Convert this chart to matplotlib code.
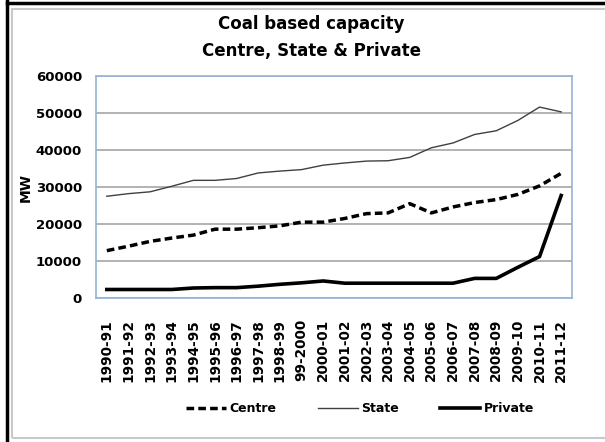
import matplotlib
matplotlib.use("Agg")
import matplotlib.pyplot as plt
from matplotlib.lines import Line2D
from matplotlib.patches import Rectangle

plt.rcParams['font.family'] = ['DejaVu Sans']

years = ["1990-91", "1991-92", "1992-93", "1993-94", "1994-95", "1995-96",
         "1996-97", "1997-98", "1998-99", "99-2000", "2000-01", "2001-02",
         "2002-03", "2003-04", "2004-05", "2005-06", "2006-07", "2007-08",
         "2008-09", "2009-10", "2010-11", "2011-12"]
centre = [12800, 14000, 15300, 16200, 17000, 18600, 18600, 19000, 19500, 20500,
          20500, 21500, 22800, 23000, 25500, 23000, 24600, 25800, 26600, 28000,
          30300, 33700]
state = [27500, 28200, 28700, 30200, 31800, 31800, 32300, 33800, 34300, 34700,
         35900, 36500, 37000, 37100, 38000, 40600, 41900, 44200, 45200, 48000,
         51600, 50300]
private = [2300, 2300, 2300, 2300, 2700, 2800, 2800, 3200, 3700, 4100,
           4600, 4000, 4000, 4000, 4000, 4000, 4000, 5300, 5300, 8300,
           11200, 27700]

fig = plt.figure(figsize=(6.05, 4.42), dpi=100)

# outer frames
fig.add_artist(Line2D([7/605, 7/605], [0, 1], color='black', lw=2.5))
fig.add_artist(Line2D([7/605, 1], [1 - 3/442, 1 - 3/442], color='black', lw=2.5))
fig.add_artist(Rectangle((12/605, 1 - 438/442), 1, 429/442, fill=False,
                         edgecolor='#c8c8c8', lw=1.5))

ax = fig.add_axes([96/605, 1 - 298/442, 476/605, 222/442])
x = range(len(years))
ax.plot(x, centre, color='black', lw=2.5, ls=(0, (2.2, 1.2)), label='Centre')
ax.plot(x, state, color='#404040', lw=1.0, label='State')
ax.plot(x, private, color='black', lw=2.6, label='Private')

ax.set_ylim(0, 60000)
ax.set_xlim(-0.5, len(years) - 0.5)
ax.set_yticks(range(0, 60001, 10000))
ax.grid(axis='y', color='#a6a6a6', lw=1.2)
ax.set_axisbelow(True)
ax.set_xticks(list(x))
ax.set_xticklabels(years, rotation=90, fontsize=9.8, fontweight='bold')
for lab in ax.get_yticklabels():
    lab.set_fontsize(9.5)
    lab.set_fontweight('bold')
ax.tick_params(axis='x', length=0, pad=15)
ax.tick_params(axis='y', length=0, pad=10)
for s in ax.spines.values():
    s.set_color('#95b3d7')
    s.set_linewidth(1.2)
ax.set_ylabel('MW', fontsize=10, fontweight='bold', labelpad=2)

fig.text(311/605, 1 - 24/442, 'Coal based capacity', ha='center', va='center',
         fontsize=12, fontweight='bold')
fig.text(311/605, 1 - 51/442, 'Centre, State & Private', ha='center', va='center',
         fontsize=12, fontweight='bold')

leg = fig.legend(loc='center', bbox_to_anchor=(360/605, 1 - 409/442), ncol=3,
                 frameon=False, handlelength=3.2, handletextpad=0.3,
                 columnspacing=3.3, prop={'weight': 'bold', 'size': 9})

fig.savefig('out.png', dpi=100)
